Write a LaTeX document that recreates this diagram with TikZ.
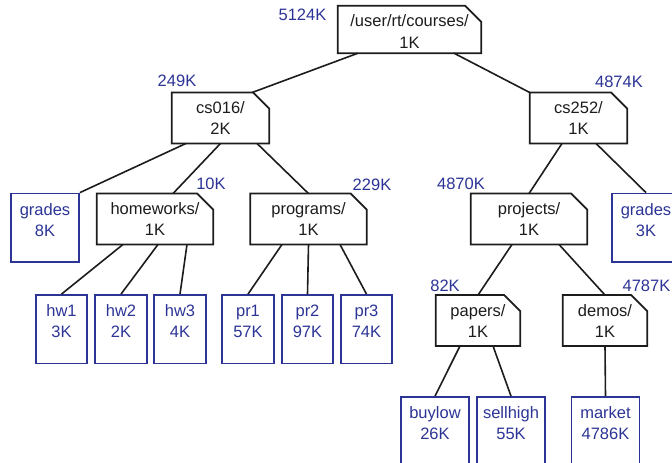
\documentclass[tikz,border=0pt]{standalone}
\usepackage{fontspec}
\setmainfont{Liberation Sans}
\definecolor{inkblue}{RGB}{44,52,150}
\definecolor{ink}{RGB}{28,28,28}
\begin{document}
\begin{tikzpicture}[x=1pt,y=-1pt,
  every node/.style={inner sep=0pt, font=\fontsize{16.5}{21}\selectfont},
  dir/.style={text=ink, align=center, text width=#1, text height=21pt, text depth=29.5pt},
  folderedge/.style={draw=ink, line width=1.8pt, line join=miter},
  file/.style={draw=inkblue, text=inkblue, line width=1.8pt, align=center,
    text width=#1, text height=21.5pt, text depth=47pt},
  size/.style={text=inkblue},
  link/.style={draw=ink, line width=1.6pt}]
\useasboundingbox (0,0) rectangle (672,463);
\clip (0,0) rectangle (672,463);

% directories
\node[dir=143pt, text height=21pt, text depth=26pt] (root) at (409.5,29.5) {/user/rt/courses/\\1K};
\node[dir=97pt]  (cs016)     at (220.5,118) {cs016/\\2K};
\node[dir=97pt]  (cs252)     at (578.5,118) {cs252/\\1K};
\node[dir=116pt] (homeworks) at (155,219)   {homeworks/\\1K};
\node[dir=116pt] (programs)  at (308.5,219) {programs/\\1K};
\node[dir=116pt] (projects)  at (529,219)   {projects/\\1K};
\node[dir=84pt]  (papers)    at (478,320.5) {papers/\\1K};
\node[dir=84pt]  (demos)     at (605,320.5) {demos/\\1K};

% folder outlines with a cut top-right corner
\foreach \n in {root,cs016,cs252,homeworks,programs,projects,papers,demos}
  \draw[folderedge] (\n.south west) -- (\n.north west) -- ([xshift=-16pt]\n.north east)
    -- ([yshift=-16pt]\n.north east) -- (\n.south east) -- cycle;

% files
\node[file=68pt]   (gradesA)  at (45,227.75)    {grades\\8K};
\node[file=68pt]   (gradesB)  at (646,227.75)   {grades\\3K};
\node[file=51.5pt] (hw1)      at (61.5,329.25)  {hw1\\3K};
\node[file=51.5pt] (hw2)      at (121,329.25)   {hw2\\2K};
\node[file=51.5pt] (hw3)      at (180,329.25)   {hw3\\4K};
\node[file=51.5pt] (pr1)      at (248,329.25)   {pr1\\57K};
\node[file=51.5pt] (pr2)      at (307.5,329.25) {pr2\\97K};
\node[file=51.5pt] (pr3)      at (366.5,329.25) {pr3\\74K};
\node[file=68pt]   (buylow)   at (435,431.25)   {buylow\\26K};
\node[file=68pt]   (sellhigh) at (511,431.25)   {sellhigh\\55K};
\node[file=68pt]   (market)   at (605.5,431.25) {market\\4786K};

% total sizes
\node[size] (s-root)      at (302.5,15)  {5124K};
\node[size] (s-cs016)     at (177,81)    {249K};
\node[size] (s-cs252)     at (619,82)    {4874K};
\node[size] (s-homeworks) at (211,184)   {10K};
\node[size] (s-programs)  at (372,185)   {229K};
\node[size] (s-projects)  at (461,184)   {4870K};
\node[size] (s-papers)    at (445,286)   {82K};
\node[size] (s-demos)     at (646.5,286) {4787K};

% tree edges
\draw[link] ([xshift=-51.5pt]root.south) -- ([xshift=31.5pt]cs016.north);
\draw[link] ([xshift=44.5pt]root.south) -- (cs252.north west);
\draw[link] ([xshift=-34.5pt]cs016.south) -- (gradesA.north east);
\draw[link] (cs016.south) -- ([xshift=18pt]homeworks.north);
\draw[link] ([xshift=36.5pt]cs016.south) -- (programs.north);
\draw[link] ([xshift=-16.5pt]cs252.south) -- (projects.north);
\draw[link] ([xshift=17.5pt]cs252.south) -- (gradesB.north);
\draw[link] ([xshift=-32pt]homeworks.south) -- (hw1.north);
\draw[link] ([xshift=3pt]homeworks.south) -- (hw2.north);
\draw[link] ([xshift=32pt]homeworks.south) -- (hw3.north);
\draw[link] ([xshift=-26.5pt]programs.south) -- (pr1.north);
\draw[link] (programs.south) -- (pr2.north);
\draw[link] ([xshift=31.5pt]programs.south) -- (pr3.north);
\draw[link] ([xshift=-17pt]projects.south) -- (papers.north);
\draw[link] ([xshift=30pt]projects.south) -- (demos.north);
\draw[link] ([xshift=-18pt]papers.south) -- (buylow.north);
\draw[link] ([xshift=15pt]papers.south) -- (sellhigh.north);
\draw[link] (demos.south) -- (market.north);
\end{tikzpicture}
\end{document}
